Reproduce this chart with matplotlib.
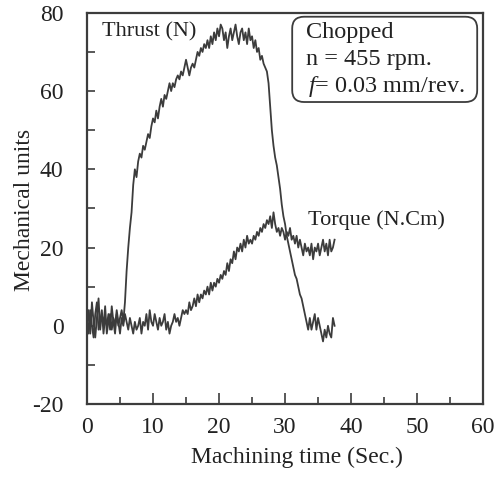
import numpy as np
import matplotlib
matplotlib.use("Agg")
import matplotlib.pyplot as plt
from matplotlib.ticker import MultipleLocator
from matplotlib.patches import FancyBboxPatch

plt.rcParams['font.family'] = ['Liberation Serif', 'DejaVu Serif']
plt.rcParams['mathtext.fontset'] = 'custom'
plt.rcParams['mathtext.it'] = 'Liberation Serif:italic'
plt.rcParams['mathtext.rm'] = 'Liberation Serif'
plt.rcParams['axes.unicode_minus'] = False

step = 0.25
thrust = [2, -2, 4, 0, -3, 3, 6, -1, 1, 4, -2, 2, 0, 3, -1, 5, 1, -2, 3, 0,
          2, 4, 1, 6, 14, 20, 25, 29, 36, 40, 38, 42, 44, 43, 46, 45, 47, 49, 48, 51,
          53, 52, 55, 53, 56, 58, 56, 59, 58, 60, 62, 60, 62, 61, 63, 64, 63, 65, 64, 66,
          68, 66, 64, 66, 67, 66, 68, 70, 69, 71, 70, 72, 71, 73, 71, 74, 72, 75, 73, 76,
          74, 77, 76, 73, 75, 71, 74, 76, 73, 75, 77, 74, 72, 75, 76, 73, 75, 72, 76, 73,
          74, 71, 73, 70, 71, 68, 69, 67, 66, 65, 62, 56, 50, 46, 43, 41, 38, 35, 31, 28,
          26, 23, 21, 19, 17, 15, 13, 12, 10, 8, 7, 5, 3, 1, -1, 2, -1, 1, 3, -1,
          2, 0, -2, -4, -1, -3, 0, -2, -3, 2, 0]
torque = [0, 4, -2, 6, 1, -3, 2, 7, -1, 3, 0, 5, -2, 1, 3, -1, 2, 0, 4, 1,
          -2, 2, 0, 3, 1, -1, 2, 0, -2, 1, -1, 0, 2, -2, 1, 0, 3, -1, 4, 1,
          0, 3, 1, -1, 2, 0, 1, 3, -1, 1, -2, 0, 1, 3, 1, 2, 0, 2, 4, 3,
          4, 3, 6, 4, 5, 7, 5, 8, 6, 8, 7, 9, 8, 10, 8, 11, 9, 11, 10, 12,
          11, 13, 12, 14, 13, 16, 14, 17, 16, 19, 17, 20, 19, 21, 19, 22, 20, 23, 21, 22,
          21, 23, 22, 24, 23, 25, 24, 26, 25, 27, 26, 28, 25, 29, 26, 24, 25, 23, 25, 24,
          22, 24, 23, 25, 22, 23, 21, 23, 20, 22, 20, 18, 21, 19, 20, 18, 21, 17, 20, 19,
          21, 18, 20, 22, 19, 21, 18, 22, 19, 20, 22]
info_lines = ["Chopped", "n = 455 rpm.", "$f$= 0.03 mm/rev."]

t_thrust = np.arange(len(thrust)) * step
t_torque = np.arange(len(torque)) * step

ink = '#3c3c3c'
txt = '#222222'
fig = plt.figure(figsize=(5.04, 4.8), dpi=100)
ax = fig.add_axes([0.1726, 0.1583, 0.786, 0.815])

ax.plot(t_thrust, thrust, color=ink, lw=1.3)
ax.plot(t_torque, torque, color=ink, lw=1.3)

ax.set_xlim(0, 60)
ax.set_ylim(-20, 80)
ax.xaxis.set_major_locator(MultipleLocator(10))
ax.xaxis.set_minor_locator(MultipleLocator(5))
ax.yaxis.set_major_locator(MultipleLocator(20))
ax.yaxis.set_minor_locator(MultipleLocator(10))
ax.tick_params(which='both', direction='in', colors=ink, labelsize=17,
               labelcolor=txt, top=False, right=False)
ax.tick_params(axis='x', which='major', length=8, width=1.2, pad=9)
ax.tick_params(axis='x', which='minor', length=5, width=1.2)
ax.tick_params(axis='y', which='both', length=6, width=1.2, pad=17)
for s in ax.spines.values():
    s.set_color(ink)
    s.set_linewidth(1.6)

ax.set_xlabel("Machining time (Sec.)", fontsize=17, color=txt, va='top')
ax.xaxis.set_label_coords(0.53, -0.11)
ax.set_ylabel("Mechanical units", fontsize=17, color=txt)
ax.yaxis.set_label_coords(-0.13, 0.496)

ax.text(2.3, 73.9, "Thrust (N)", fontsize=16, color=txt, va='baseline')
ax.text(33.5, 25.8, "Torque (N.Cm)", fontsize=16, color=txt, va='baseline')

box = FancyBboxPatch((0.518, 0.772), 0.467, 0.218, transform=ax.transAxes,
                     boxstyle='round,pad=0,rounding_size=0.03',
                     fc='white', ec=ink, lw=1.3)
ax.add_patch(box)
for i, line in enumerate(info_lines):
    ax.text(0.553 + (0.006 if i == 2 else 0), 0.936 - i * 0.069, line,
            transform=ax.transAxes, fontsize=17.5, color=txt, va='baseline')

fig.savefig("out.png", dpi=100)
